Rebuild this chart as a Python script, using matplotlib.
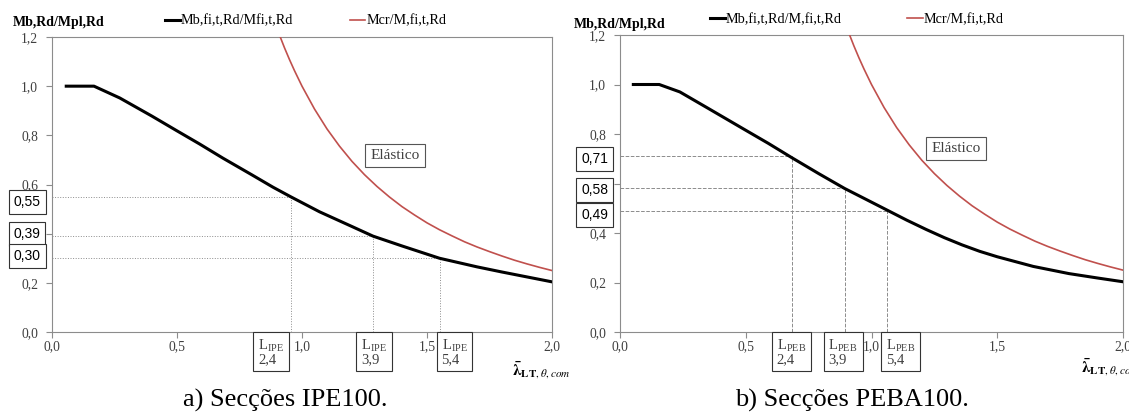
import matplotlib
matplotlib.use("Agg")
import matplotlib.pyplot as plt
from matplotlib.lines import Line2D
import matplotlib.transforms as mtransforms

plt.rcParams["font.family"] = ["Liberation Serif", "DejaVu Serif"]
plt.rcParams["mathtext.fontset"] = "stix"

# ---- data ----
lam_a = [0.057, 0.168, 0.271, 0.40, 0.497, 0.59, 0.684, 0.80, 0.884, 0.955, 1.07,
         1.20, 1.284, 1.40, 1.55, 1.70, 1.80, 1.90, 2.00]
chi_a = [1.0, 1.0, 0.952, 0.878, 0.820, 0.765, 0.707, 0.639, 0.589, 0.550, 0.489,
         0.429, 0.390, 0.350, 0.300, 0.265, 0.244, 0.224, 0.204]

lam_b = [0.053, 0.156, 0.238, 0.35, 0.49, 0.59, 0.682, 0.79, 0.893, 0.98, 1.061,
         1.14, 1.218, 1.29, 1.36, 1.43, 1.50, 1.643, 1.785, 1.90, 2.00]
chi_b = [1.0, 1.0, 0.970, 0.904, 0.821, 0.762, 0.705, 0.640, 0.580, 0.535, 0.493,
         0.452, 0.414, 0.381, 0.352, 0.326, 0.304, 0.265, 0.236, 0.218, 0.203]

lam_cr = [0.913, 0.93, 0.95, 0.97, 1.0, 1.05, 1.1, 1.15, 1.2, 1.25, 1.3, 1.35, 1.4,
          1.45, 1.5, 1.55, 1.6, 1.65, 1.7, 1.75, 1.8, 1.85, 1.9, 1.95, 2.0]
mcr = [1.2, 1.156, 1.108, 1.063, 1.0, 0.907, 0.826, 0.756, 0.694, 0.640, 0.592, 0.549,
       0.510, 0.476, 0.444, 0.416, 0.391, 0.367, 0.346, 0.327, 0.309, 0.292, 0.277,
       0.263, 0.250]

# reference points (lambda, ratio) and their labels
ref_a_lam = [0.955, 1.284, 1.551]
ref_a_val = [0.55, 0.39, 0.30]
ref_b_lam = [0.684, 0.894, 1.061]
ref_b_val = [0.71, 0.58, 0.49]
len_labels = ["2,4", "3,9", "5,4"]

yticks = [0.0, 0.2, 0.4, 0.6, 0.8, 1.0, 1.2]
xticks = [0.0, 0.5, 1.0, 1.5, 2.0]

RED = "#c0504d"
GREY = "#8c8c8c"
TXT = "#404040"
LAMBDA = "$\\mathbf{\\bar{\\lambda}}_{\\mathbf{LT},\\theta,\\mathit{com}}$"

W, H = 1129, 416
fig = plt.figure(figsize=(W / 100, H / 100), dpi=100)
axA = fig.add_axes([52 / W, 1 - 332 / H, 500 / W, 295 / H])
axB = fig.add_axes([620 / W, 1 - 332 / H, 503 / W, 297 / H])


def fmt(v, nd=1):
    return f"{v:.{nd}f}".replace(".", ",")


def panel(ax, lam, chi, rlam, rval, ls):
    ax.set_xlim(0, 2)
    ax.set_ylim(0, 1.2)
    ax.set_xticks(xticks)
    ax.set_yticks(yticks)
    ax.set_xticklabels([fmt(v) for v in xticks])
    ax.set_yticklabels([fmt(v) for v in yticks])
    ax.tick_params(direction="out", length=4, width=0.8, color=GREY,
                   labelsize=9.8, labelcolor=TXT)
    ax.tick_params(axis="y", pad=6)
    ax.tick_params(axis="x", pad=2)
    for s in ax.spines.values():
        s.set_color(GREY)
        s.set_linewidth(0.8)
    ax.plot(lam, chi, color="black", lw=2.2, zorder=4)
    ax.plot(lam_cr, mcr, color=RED, lw=1.2, zorder=4)
    for x, v in zip(rlam, rval):
        ax.plot([0, x], [v, v], color=GREY, lw=0.7, ls=ls, zorder=2)
        ax.plot([x, x], [0, v], color=GREY, lw=0.7, ls=ls, zorder=2)


def value_boxes(ax, vals, ypos):
    yt = mtransforms.blended_transform_factory(ax.transAxes, ax.transData)
    for v, yc in zip(vals, ypos):
        ax.text(-0.05, yc, fmt(v, 2), transform=yt, ha="center", va="center",
                family="Liberation Sans", fontsize=10, color="black", zorder=10, clip_on=False,
                bbox=dict(boxstyle="square,pad=0.36", fc="white", ec="#333333", lw=0.8))


def length_boxes(ax, xs, sect):
    xt = mtransforms.blended_transform_factory(ax.transData, ax.transAxes)
    for xc, lab in zip(xs, len_labels):
        ax.text(xc, -0.068, "L$_{\\mathregular{" + sect + "}}$\n" + lab, transform=xt,
                ha="center", va="center", multialignment="left", fontsize=10.5, color=TXT,
                linespacing=0.9, zorder=10, clip_on=False,
                bbox=dict(boxstyle="square,pad=0.33", fc="white", ec="#333333", lw=0.8))


def legend(ax, first, anchor, colsp):
    ax.legend([Line2D([], [], color="black", lw=2.2), Line2D([], [], color=RED, lw=1.2)],
              [first, "Mcr/M,fi,t,Rd"], ncol=2, frameon=False,
              loc="center left", bbox_to_anchor=anchor, borderaxespad=0, borderpad=0,
              handlelength=1.1, handletextpad=0.05, columnspacing=colsp, fontsize=10.2)


# ---------------- panel a ----------------
panel(axA, lam_a, chi_a, ref_a_lam, ref_a_val, ":")
value_boxes(axA, ref_a_val, [0.529, 0.399, 0.309])
length_boxes(axA, [0.876, 1.288, 1.61], "IPE")
axA.text(1.371, 0.718, "Elástico", ha="center", va="center", fontsize=11, color=TXT, zorder=10,
         bbox=dict(boxstyle="square,pad=0.35", fc="white", ec="#555555", lw=0.8))
axA.text(-0.079, 1.05, "Mb,Rd/Mpl,Rd", transform=axA.transAxes, ha="left", va="center",
         fontsize=10, fontweight="bold")
legend(axA, "Mb,fi,t,Rd/Mfi,t,Rd", (0.225, 1.054), 4.0)
fig.text(512 / W, 1 - 370 / H, LAMBDA, ha="left", va="center", fontsize=11.5)
fig.text(285 / W, 1 - 400 / H, "a) Secções IPE100.", ha="center", va="center", fontsize=19)

# ---------------- panel b ----------------
panel(axB, lam_b, chi_b, ref_b_lam, ref_b_val, "--")
value_boxes(axB, ref_b_val, [0.699, 0.574, 0.473])
length_boxes(axB, [0.682, 0.887, 1.116], "PEB")
axB.text(1.337, 0.742, "Elástico", ha="center", va="center", fontsize=11, color=TXT, zorder=10,
         bbox=dict(boxstyle="square,pad=0.35", fc="white", ec="#555555", lw=0.8))
axB.text(-0.092, 1.034, "Mb,Rd/Mpl,Rd", transform=axB.transAxes, ha="left", va="center",
         fontsize=10, fontweight="bold")
legend(axB, "Mb,fi,t,Rd/M,fi,t,Rd", (0.178, 1.052), 4.6)
fig.text(1081 / W, 1 - 367 / H, LAMBDA, ha="left", va="center", fontsize=11.5)
fig.text(852 / W, 1 - 400 / H, "b) Secções PEBA100.", ha="center", va="center", fontsize=19)

fig.savefig("out.png", dpi=100)
